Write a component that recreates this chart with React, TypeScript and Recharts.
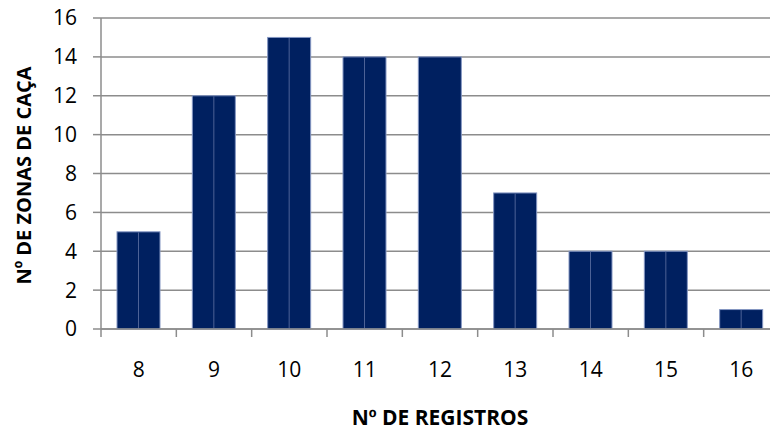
import React from 'react';
import { BarChart, Bar, XAxis, YAxis, CartesianGrid, Label } from 'recharts';

// Number of records per hunting zone (x) and how many zones have it (y)
const registros = ['8', '9', '10', '11', '12', '13', '14', '15', '16'];
const zonas = [5, 12, 15, 14, 14, 7, 4, 4, 1];
const yTicks = [0, 2, 4, 6, 8, 10, 12, 14, 16];

const data = registros.map((r, i) => ({ registros: r, zonas: zonas[i] }));

const FONT = '"Open Sans", "DejaVu Sans", sans-serif';
// underlined ordinal sign
const ORD_FONT = '"Liberation Sans", "DejaVu Sans", sans-serif';
const GRID = '#8c8c8c';
const NAVY = '#002060';

// Bars drawn with a light outline and a thin divider down the middle
const SplitBar = (props: any) => {
  const { x, y, width, height, payload } = props;
  if (height <= 0) return null;
  const mid = x + width / 2;
  const divided = payload && payload.registros !== '12';
  return (
    <g>
      <rect x={x} y={y} width={width} height={height} fill={NAVY} stroke="#8496c2" strokeWidth={1} />
      {divided && (
        <line x1={mid} x2={mid} y1={y + 0.5} y2={y + height} stroke="#4d6296" strokeWidth={1} />
      )}
    </g>
  );
};

// Category label centred in its band, tick mark on the band's left edge
const XTick = (props: any) => {
  const { x, y, payload } = props;
  const off = payload?.offset ?? 0;
  const bx = x - off;
  return (
    <g>
      <line x1={bx} x2={bx} y1={y} y2={y + 8} stroke={GRID} strokeWidth={1.5} />
      <text x={x} y={y + 48} textAnchor="middle" fontFamily={FONT} fontSize={21} fill="#000">
        {payload.value}
      </text>
    </g>
  );
};

const YTitle = (props: any) => {
  const vb = props.viewBox || { x: 0, y: 0, width: 0, height: 0 };
  const cx = vb.x + 23;
  const cy = vb.y + vb.height / 2 + 2;
  return (
    <text
      x={cx}
      y={cy}
      transform={`rotate(-90, ${cx}, ${cy})`}
      textAnchor="middle"
      dominantBaseline="central"
      fontFamily={FONT}
      fontWeight={700}
      fontSize={20}
      fill="#000"
    >
      N<tspan fontFamily={ORD_FONT}>º</tspan> DE ZONAS DE CAÇA
    </text>
  );
};

const XTitle = (props: any) => {
  const vb = props.viewBox || { x: 0, y: 0, width: 0, height: 0 };
  const cx = vb.x + vb.width / 2;
  return (
    <text x={cx} y={vb.y + 96} textAnchor="middle" fontFamily={FONT} fontWeight={700} fontSize={21} fill="#000">
      N<tspan fontFamily={ORD_FONT}>º</tspan> DE REGISTROS
    </text>
  );
};

export default function App() {
  return (
    <div
      style={{
        position: 'absolute',
        left: 0,
        top: 0,
        width: 770,
        height: 430,
        overflow: 'hidden',
        background: '#fff',
      }}
    >
      <BarChart
        width={790}
        height={430}
        data={data}
        margin={{ top: 18, right: 11, bottom: 0, left: 0 }}
        barSize={43}
      >
        <CartesianGrid vertical={false} stroke={GRID} strokeWidth={1.5} />
        <XAxis
          dataKey="registros"
          height={101}
          tickLine={false}
          tickSize={0}
          tickMargin={0}
          axisLine={{ stroke: GRID, strokeWidth: 1.5 }}
          tick={<XTick />}
          interval={0}
        >
          <Label content={<XTitle />} />
        </XAxis>
        <YAxis
          width={101}
          domain={[0, 16]}
          ticks={yTicks}
          interval={0}
          tickSize={8}
          tickMargin={16}
          tickLine={{ stroke: GRID, strokeWidth: 1.5 }}
          axisLine={{ stroke: GRID, strokeWidth: 1.5 }}
          tick={{ fill: '#000', fontSize: 21, fontFamily: FONT }}
        >
          <Label content={<YTitle />} />
        </YAxis>
        <Bar dataKey="zonas" shape={<SplitBar />} isAnimationActive={false} />
      </BarChart>
    </div>
  );
}
